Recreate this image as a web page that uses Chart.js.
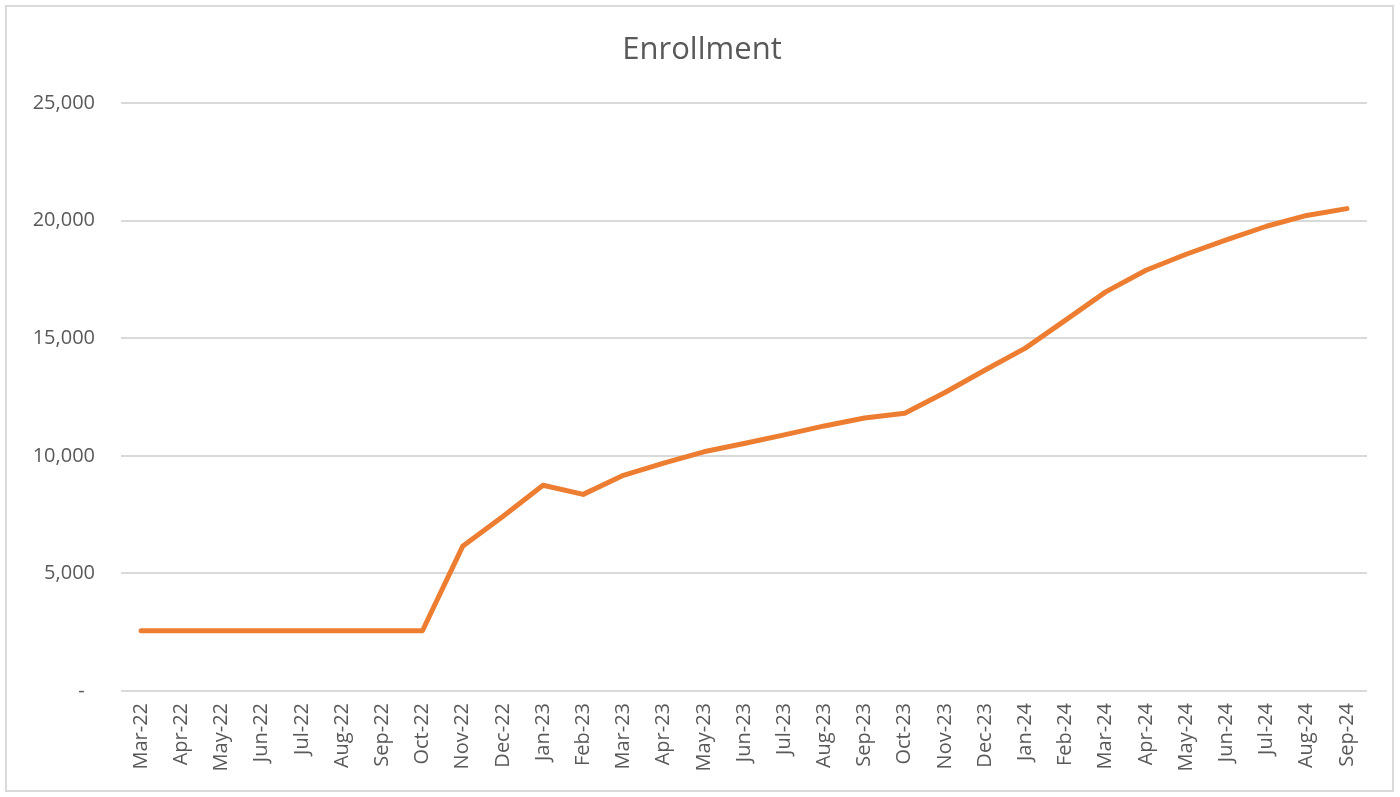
<!DOCTYPE html>
<html lang="en">
  <head>
    <meta charset="UTF-8" />
    <title>Enrollment</title>
    <script src="https://cdn.jsdelivr.net/npm/chart.js"></script>
    <style>
      body {
        margin: 0;
        background: #ffffff;
      }

      #wrap {
        position: relative;
        width: 1400px;
        height: 797px;
      }
    </style>
  </head>

  <body>
    <div id="wrap">
      <canvas id="enrollmentChart" width="1400" height="797"></canvas>
    </div>

    <script>
      // Months on the x axis
      const months = [
        "Mar-22", "Apr-22", "May-22", "Jun-22", "Jul-22", "Aug-22", "Sep-22", "Oct-22",
        "Nov-22", "Dec-22", "Jan-23", "Feb-23", "Mar-23", "Apr-23", "May-23", "Jun-23",
        "Jul-23", "Aug-23", "Sep-23", "Oct-23", "Nov-23", "Dec-23", "Jan-24", "Feb-24",
        "Mar-24", "Apr-24", "May-24", "Jun-24", "Jul-24", "Aug-24", "Sep-24",
      ];

      // Enrollment per month
      const enrollment = [
        2560, 2560, 2560, 2560, 2560, 2560, 2560, 2560,
        6150, 7420, 8750, 8360, 9170, 9690, 10170, 10520,
        10890, 11270, 11610, 11810, 12690, 13650, 14580, 15770,
        16970, 17890, 18570, 19180, 19760, 20220, 20510,
      ];

      // y axis ticks
      const yTicks = [0, 5000, 10000, 15000, 20000, 25000];

      const chartTitle = "Enrollment";
      const textColor = "#595959";
      const fontFamily = "'Open Sans', sans-serif";

      // frame + title centred on the whole picture (like the Excel chart area)
      const framePlugin = {
        id: "frame",
        beforeDraw(chart) {
          const ctx = chart.ctx;
          ctx.save();
          ctx.fillStyle = "#ffffff";
          ctx.fillRect(0, 0, chart.width, chart.height);
          ctx.strokeStyle = "#d9d9d9";
          ctx.lineWidth = 2;
          ctx.strokeRect(6, 6, 1387, 785);
          ctx.restore();
        },
        afterDraw(chart) {
          const ctx = chart.ctx;
          ctx.save();
          ctx.fillStyle = textColor;
          ctx.font = "31px " + fontFamily;
          ctx.textAlign = "center";
          ctx.textBaseline = "middle";
          ctx.fillText(chartTitle, chart.width / 2 + 2, 50);
          ctx.restore();
        },
      };

      new Chart(document.getElementById("enrollmentChart"), {
        type: "line",
        data: {
          labels: months,
          datasets: [
            {
              label: "Enrollment",
              data: enrollment,
              borderColor: "#ED7D31",
              backgroundColor: "#ED7D31",
              borderWidth: 5,
              borderCapStyle: "round",
              borderJoinStyle: "round",
              pointRadius: 0,
              tension: 0,
            },
          ],
        },
        options: {
          responsive: false,
          animation: false,
          layout: {
            padding: { left: 0, right: 33, top: 103, bottom: 0 },
          },
          plugins: {
            legend: { display: false },
            tooltip: { enabled: false },
            title: { display: false },
          },
          scales: {
            x: {
              offset: true,
              grid: { display: false, drawTicks: false },
              border: { display: false },
              ticks: {
                color: textColor,
                font: { family: fontFamily, size: 20 },
                minRotation: 90,
                maxRotation: 90,
                autoSkip: false,
                padding: 12,
              },
              afterFit(scale) {
                scale.height = 106;
              },
            },
            y: {
              min: 0,
              max: 25000,
              afterBuildTicks(scale) {
                scale.ticks = yTicks.map((v) => ({ value: v }));
              },
              grid: { color: "#d9d9d9", lineWidth: 2, drawTicks: false },
              border: { display: false },
              ticks: {
                color: textColor,
                font: { family: fontFamily, size: 20 },
                padding: 26,
                callback: (v) => (v === 0 ? "-  " : v.toLocaleString("en-US")),
              },
              afterFit(scale) {
                scale.width = 121;
              },
            },
          },
        },
        plugins: [framePlugin],
      });
    </script>
  </body>
</html>
